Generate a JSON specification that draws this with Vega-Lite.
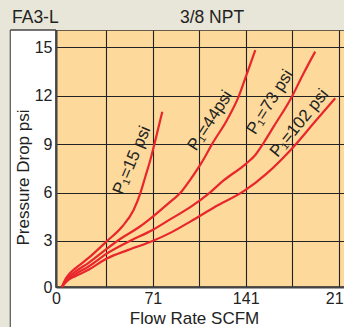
{
  "$schema": "https://vega.github.io/schema/vega-lite/v6.json",
  "width": 300,
  "height": 257,
  "autosize": {"type": "none"},
  "padding": {"left": 56, "top": 30, "right": 0, "bottom": 40},
  "background": "#ffffff",
  "config": {
    "view": {"fill": "#FDD99B", "stroke": "#333333", "strokeWidth": 1.5},
    "font": "Liberation Sans",
    "axis": {
      "grid": true,
      "gridColor": "#222222",
      "gridWidth": 1.1,
      "gridOpacity": 1,
      "ticks": false,
      "domainColor": "#444444",
      "domainWidth": 2,
      "labelFont": "Liberation Sans",
      "labelFontSize": 16,
      "labelColor": "#222222",
      "titleFont": "Liberation Sans",
      "titleFontSize": 17,
      "titleFontWeight": "normal",
      "titleColor": "#222222",
      "labelOverlap": false,
      "labelFlush": false
    }
  },
  "datasets": {
    "curves": [
      {"series": "15", "flow": 1.5, "drop": 0.15},
      {"series": "15", "flow": 4, "drop": 0.6},
      {"series": "15", "flow": 7, "drop": 0.95},
      {"series": "15", "flow": 11.7, "drop": 1.3},
      {"series": "15", "flow": 21.8, "drop": 1.95},
      {"series": "15", "flow": 35.3, "drop": 2.96},
      {"series": "15", "flow": 47.2, "drop": 3.88},
      {"series": "15", "flow": 56, "drop": 4.92},
      {"series": "15", "flow": 61.1, "drop": 5.95},
      {"series": "15", "flow": 64.9, "drop": 6.98},
      {"series": "15", "flow": 68.7, "drop": 8.02},
      {"series": "15", "flow": 71.8, "drop": 9.0},
      {"series": "15", "flow": 74.8, "drop": 10.0},
      {"series": "15", "flow": 77.8, "drop": 11.0},
      {"series": "44", "flow": 1.5, "drop": 0.15},
      {"series": "44", "flow": 4, "drop": 0.5},
      {"series": "44", "flow": 7, "drop": 0.8},
      {"series": "44", "flow": 11.7, "drop": 1.1},
      {"series": "44", "flow": 21.8, "drop": 1.65},
      {"series": "44", "flow": 35.3, "drop": 2.5},
      {"series": "44", "flow": 47.2, "drop": 3.2},
      {"series": "44", "flow": 60, "drop": 3.85},
      {"series": "44", "flow": 70.4, "drop": 4.5},
      {"series": "44", "flow": 82, "drop": 5.3},
      {"series": "44", "flow": 92.8, "drop": 6.1},
      {"series": "44", "flow": 99.1, "drop": 6.8},
      {"series": "44", "flow": 108, "drop": 7.9},
      {"series": "44", "flow": 115.6, "drop": 9.0},
      {"series": "44", "flow": 127, "drop": 10.5},
      {"series": "44", "flow": 135.8, "drop": 11.94},
      {"series": "44", "flow": 142.2, "drop": 13.39},
      {"series": "44", "flow": 148.5, "drop": 14.83},
      {"series": "73", "flow": 1.5, "drop": 0.15},
      {"series": "73", "flow": 4, "drop": 0.45},
      {"series": "73", "flow": 7, "drop": 0.7},
      {"series": "73", "flow": 11.7, "drop": 0.95},
      {"series": "73", "flow": 21.8, "drop": 1.42},
      {"series": "73", "flow": 35.3, "drop": 2.2},
      {"series": "73", "flow": 52, "drop": 2.95},
      {"series": "73", "flow": 70.4, "drop": 3.68},
      {"series": "73", "flow": 85, "drop": 4.4},
      {"series": "73", "flow": 99.1, "drop": 5.1},
      {"series": "73", "flow": 114, "drop": 6.0},
      {"series": "73", "flow": 124.4, "drop": 6.75},
      {"series": "73", "flow": 140.9, "drop": 7.75},
      {"series": "73", "flow": 148.5, "drop": 8.33},
      {"series": "73", "flow": 155, "drop": 9.1},
      {"series": "73", "flow": 162.4, "drop": 10.08},
      {"series": "73", "flow": 176.3, "drop": 11.94},
      {"series": "73", "flow": 185.2, "drop": 13.39},
      {"series": "73", "flow": 194, "drop": 14.73},
      {"series": "102", "flow": 1.5, "drop": 0.15},
      {"series": "102", "flow": 4, "drop": 0.4},
      {"series": "102", "flow": 7, "drop": 0.62},
      {"series": "102", "flow": 11.7, "drop": 0.82},
      {"series": "102", "flow": 21.8, "drop": 1.22},
      {"series": "102", "flow": 35.3, "drop": 1.9},
      {"series": "102", "flow": 52, "drop": 2.45},
      {"series": "102", "flow": 70.4, "drop": 3.0},
      {"series": "102", "flow": 85, "drop": 3.55},
      {"series": "102", "flow": 99.1, "drop": 4.2},
      {"series": "102", "flow": 118, "drop": 5.12},
      {"series": "102", "flow": 140, "drop": 6.1},
      {"series": "102", "flow": 157.3, "drop": 7.19},
      {"series": "102", "flow": 177.6, "drop": 8.84},
      {"series": "102", "flow": 192.8, "drop": 10.29},
      {"series": "102", "flow": 209.2, "drop": 11.84}
    ],
    "labels": [
      {"series": "15", "flow": 54.8, "drop": 8.0, "text": "P₁=15 psi"},
      {"series": "44", "flow": 114.3, "drop": 10.45, "text": "P₁=44psi"},
      {"series": "73", "flow": 159.8, "drop": 11.6, "text": "P₁=73 psi"},
      {"series": "102", "flow": 182, "drop": 10.3, "text": "P₁=102 psi"}
    ]
  },
  "layer": [
    {
      "data": {"name": "curves"},
      "mark": {"type": "line", "color": "#E8262B", "strokeWidth": 2.2, "interpolate": "monotone"},
      "encoding": {
        "x": {
          "field": "flow", "type": "quantitative",
          "scale": {"domain": [-2.96, 225], "nice": false, "zero": false},
          "axis": {
            "title": "Flow Rate SCFM",
            "values": [-2.96, 35.3, 70.6, 105.9, 141.2, 176.5, 211.8],
            "labelExpr": "datum.value < 0 ? '0' : datum.value == 70.6 ? '71' : datum.value == 141.2 ? '141' : datum.value == 211.8 ? '212' : ''",
            "labelPadding": 3,
            "titleX": 138,
            "titleY": 36,
            "titleAlign": "center",
            "titleBaseline": "alphabetic"
          }
        },
        "y": {
          "field": "drop", "type": "quantitative",
          "scale": {"domain": [0.15, 16.07], "nice": false, "zero": false},
          "axis": {
            "title": "Pressure Drop psi",
            "values": [0.15, 3, 6, 9, 12, 15],
            "labelExpr": "datum.value < 1 ? '0' : format(datum.value, 'd')",
            "labelPadding": 4,
            "titleAngle": -90,
            "titleX": -28,
            "titleY": 147,
            "titleAlign": "center",
            "titleBaseline": "alphabetic"
          }
        },
        "detail": {"field": "series", "type": "nominal"}
      }
    },
    {
      "data": {"values": [{}]},
      "mark": {"type": "rect", "fill": "#E8E6D8", "clip": false},
      "encoding": {
        "x": {"datum": -60, "type": "quantitative"},
        "x2": {"datum": 270},
        "y": {"datum": 16.07, "type": "quantitative"},
        "y2": {"datum": 20}
      }
    },
    {
      "data": {"values": [{}]},
      "mark": {"type": "rect", "fill": "#E8E6D8", "clip": false},
      "encoding": {
        "x": {"datum": -60, "type": "quantitative"},
        "x2": {"datum": -37.7},
        "y": {"datum": -5, "type": "quantitative"},
        "y2": {"datum": 20}
      }
    },
    {
      "data": {"values": [{}]},
      "mark": {"type": "rule", "color": "#555555", "strokeWidth": 1.2, "clip": false},
      "encoding": {
        "x": {"datum": -37.7, "type": "quantitative"},
        "y": {"datum": 16.07, "type": "quantitative"},
        "y2": {"datum": -5}
      }
    },
    {
      "data": {"values": [{}]},
      "mark": {"type": "rule", "color": "#444444", "strokeWidth": 1.5, "clip": false},
      "encoding": {
        "x": {"datum": -37.7, "type": "quantitative"},
        "x2": {"datum": -2.96},
        "y": {"datum": 16.07, "type": "quantitative"}
      }
    },
    {
      "data": {"values": [{}]},
      "mark": {"type": "text", "text": "FA3-L", "align": "left", "baseline": "alphabetic", "fontSize": 17.5, "color": "#222222", "clip": false},
      "encoding": {
        "x": {"datum": -36.4, "type": "quantitative"},
        "y": {"datum": 16.52, "type": "quantitative"}
      }
    },
    {
      "data": {"values": [{}]},
      "mark": {"type": "text", "text": "3/8 NPT", "align": "center", "baseline": "alphabetic", "fontSize": 17.5, "color": "#222222", "clip": false},
      "encoding": {
        "x": {"datum": 115.6, "type": "quantitative"},
        "y": {"datum": 16.52, "type": "quantitative"}
      }
    },
    {
      "data": {"name": "labels"},
      "transform": [{"filter": "datum.series == '15'"}],
      "mark": {"type": "text", "angle": -67, "fontSize": 17, "color": "#222222", "align": "center", "baseline": "middle"},
      "encoding": {
        "x": {"field": "flow", "type": "quantitative"},
        "y": {"field": "drop", "type": "quantitative"},
        "text": {"field": "text", "type": "nominal"}
      }
    },
    {
      "data": {"name": "labels"},
      "transform": [{"filter": "datum.series == '44'"}],
      "mark": {"type": "text", "angle": -57, "fontSize": 17, "color": "#222222", "align": "center", "baseline": "middle"},
      "encoding": {
        "x": {"field": "flow", "type": "quantitative"},
        "y": {"field": "drop", "type": "quantitative"},
        "text": {"field": "text", "type": "nominal"}
      }
    },
    {
      "data": {"name": "labels"},
      "transform": [{"filter": "datum.series == '73'"}],
      "mark": {"type": "text", "angle": -58, "fontSize": 17, "color": "#222222", "align": "center", "baseline": "middle"},
      "encoding": {
        "x": {"field": "flow", "type": "quantitative"},
        "y": {"field": "drop", "type": "quantitative"},
        "text": {"field": "text", "type": "nominal"}
      }
    },
    {
      "data": {"name": "labels"},
      "transform": [{"filter": "datum.series == '102'"}],
      "mark": {"type": "text", "angle": -51, "fontSize": 17, "color": "#222222", "align": "center", "baseline": "middle"},
      "encoding": {
        "x": {"field": "flow", "type": "quantitative"},
        "y": {"field": "drop", "type": "quantitative"},
        "text": {"field": "text", "type": "nominal"}
      }
    }
  ]
}
